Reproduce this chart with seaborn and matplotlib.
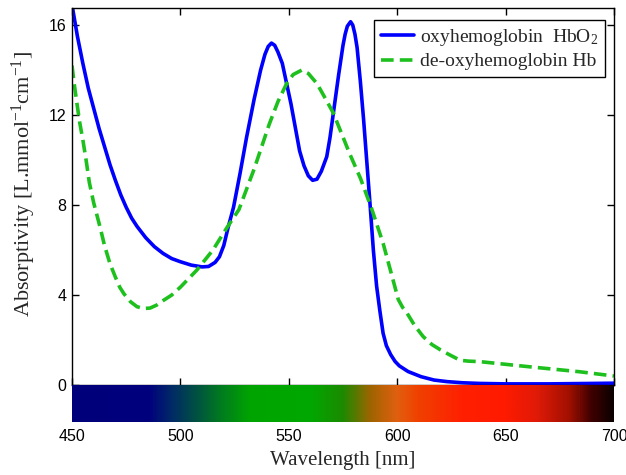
import numpy as np
import pandas as pd
import matplotlib
matplotlib.use("Agg")
import matplotlib.pyplot as plt
import seaborn as sns
from matplotlib.colors import LinearSegmentedColormap

# ---- data ----
hbo2_nm = [450, 452.5, 455, 457.5, 460, 462.5, 465, 467.5, 470, 472.5, 475, 477.5,
           480, 484, 488, 492, 496, 500, 505, 510, 513, 516, 518, 520, 522,
           524.5, 527.5, 530.5, 534, 537, 539, 540.5, 542, 543.5, 545, 547, 551,
           555, 557, 559, 561, 563, 565, 567.5, 569, 571, 573, 575, 576, 577, 578.5,
           579.5, 580.5, 581.5, 583, 584.5, 586, 587.5, 589, 590.5, 592, 593.5, 595,
           597, 599, 601, 605, 611, 617, 623, 630, 638, 650, 670, 700]
hbo2_abs = [16.9, 15.5, 14.3, 13.2, 12.3, 11.4, 10.6, 9.8, 9.1, 8.45, 7.9, 7.42,
            7.05, 6.55, 6.15, 5.85, 5.62, 5.48, 5.33, 5.25, 5.27, 5.45, 5.7, 6.2, 7.0,
            7.9, 9.4, 11.0, 12.7, 14.0, 14.7, 15.05, 15.2, 15.1, 14.8, 14.3, 12.5,
            10.4, 9.75, 9.3, 9.1, 9.15, 9.5, 10.15, 11.0, 12.4, 13.8, 15.1, 15.6, 15.95, 16.15,
            16.0, 15.6, 15.0, 13.5, 11.8, 9.9, 8.0, 6.0, 4.4, 3.3, 2.3, 1.75,
            1.35, 1.05, 0.85, 0.6, 0.37, 0.22, 0.15, 0.1, 0.07, 0.05, 0.05, 0.08]

hb_nm = [450, 451, 452, 453.5, 455, 456.5, 458, 460, 463, 465, 467.5, 470, 472, 474,
         477, 480, 483, 486, 489, 492, 496, 500, 507.5, 515, 521.5, 527, 534, 541,
         545, 549, 552, 556, 559, 563, 566.5, 570.5, 578, 583, 588, 593.5, 598,
         600.5, 602.5, 604.5, 608, 612, 616, 620, 624, 629, 633, 638, 661, 684, 700]
hb_abs = [14.2, 13.4, 12.7, 11.7, 10.9, 10.0, 9.0, 8.1, 7.0, 6.2, 5.4, 4.8, 4.35, 4.05,
          3.7, 3.48, 3.4, 3.42, 3.55, 3.75, 4.0, 4.35, 5.1, 6.0, 7.0, 7.8, 9.6, 11.6,
          12.6, 13.4, 13.8, 14.0, 13.85, 13.4, 12.8, 12.1, 10.3, 9.2, 7.9, 6.3, 4.7,
          3.8, 3.45, 3.2, 2.65, 2.15, 1.8, 1.56, 1.35, 1.1, 1.06, 1.04, 0.81, 0.59, 0.4]

spectrum_nm = [450, 485, 495, 505, 518, 532, 560, 575, 588, 600, 610, 630, 650,
               665, 680, 690, 700]
spectrum_colors = ["#00007a", "#00007e", "#002868", "#004a48", "#007a20", "#00a400",
                   "#00a800", "#1c8a00", "#a06400", "#e06010", "#f04000", "#ff2000",
                   "#ff1a00", "#e01a08", "#a01000", "#400000", "#0c0000"]

x_ticks = [450, 500, 550, 600, 650, 700]
y_ticks = [0, 4, 8, 12, 16]
labels = ["oxyhemoglobin  HbO$_2$", "de-oxyhemoglobin Hb"]

# ---- style ----
sns.set_theme(style="ticks")
plt.rcParams["font.family"] = ["Liberation Serif", "DejaVu Serif"]
plt.rcParams["mathtext.fontset"] = "custom"
plt.rcParams["mathtext.rm"] = "Liberation Serif"
plt.rcParams["mathtext.it"] = "Liberation Serif:italic"
plt.rcParams["mathtext.bf"] = "Liberation Serif:bold"

W, H = 626, 475
fig = plt.figure(figsize=(W / 100, H / 100), dpi=100)
ax = fig.add_axes([72 / W, (H - 385) / H, 542 / W, 377 / H])
cax = fig.add_axes([72 / W, (H - 422) / H, 542 / W, 37 / H])

df_o = pd.DataFrame({"nm": hbo2_nm, "abs": hbo2_abs})
df_d = pd.DataFrame({"nm": hb_nm, "abs": hb_abs})
sns.lineplot(data=df_o, x="nm", y="abs", ax=ax, color="#0000ff", lw=2.6,
             label=labels[0])
sns.lineplot(data=df_d, x="nm", y="abs", ax=ax, color="#1ec01e", lw=2.6,
             dashes=False, label=labels[1])
ax.lines[1].set_dashes([3.5, 1.7])
for ln in ax.lines:
    ln.set_solid_joinstyle("round")
    ln.set_dash_joinstyle("round")

ax.set_xlim(450, 700)
ax.set_ylim(0, 16.76)
ax.set_xticks(x_ticks)
ax.set_yticks(y_ticks)
ax.set_xlabel("")
ax.set_ylabel("Absorptivity [L.mmol$^{-1}$cm$^{-1}$]", fontsize=16)
ax.yaxis.set_label_coords(-0.062, 0.533)
ax.tick_params(direction="in", length=5, width=1, top=True, right=True,
               labelbottom=False, labelsize=11.5, pad=4,
               labelfontfamily="Liberation Sans", colors="black")
for s in ax.spines.values():
    s.set_visible(True)
    s.set_color("black")
    s.set_linewidth(1.0)

leg = ax.legend(loc="upper right", bbox_to_anchor=(0.983, 0.968), borderaxespad=0,
                fontsize=14, frameon=True, fancybox=False, framealpha=1,
                edgecolor="black", handlelength=1.7, handletextpad=0.3,
                borderpad=0.35, labelspacing=0.25)
leg.get_frame().set_linewidth(1.0)

# spectrum bar
pos = [(v - spectrum_nm[0]) / (spectrum_nm[-1] - spectrum_nm[0]) for v in spectrum_nm]
cmap = LinearSegmentedColormap.from_list("spec", list(zip(pos, spectrum_colors)))
cax.imshow(np.linspace(0, 1, 800)[None, :], cmap=cmap, aspect="auto",
           extent=[450, 700, 0, 1], interpolation="bilinear")
cax.set_xlim(450, 700)
cax.set_ylim(0, 1)
cax.set_yticks([])
cax.set_xticks(x_ticks)
cax.tick_params(axis="x", length=0, pad=5, labelsize=11.5,
                labelfontfamily="Liberation Sans", colors="black")
for s in cax.spines.values():
    s.set_visible(False)
cax.set_xlabel("Wavelength [nm]", fontsize=15, labelpad=5)

fig.savefig("out.png", dpi=100)
